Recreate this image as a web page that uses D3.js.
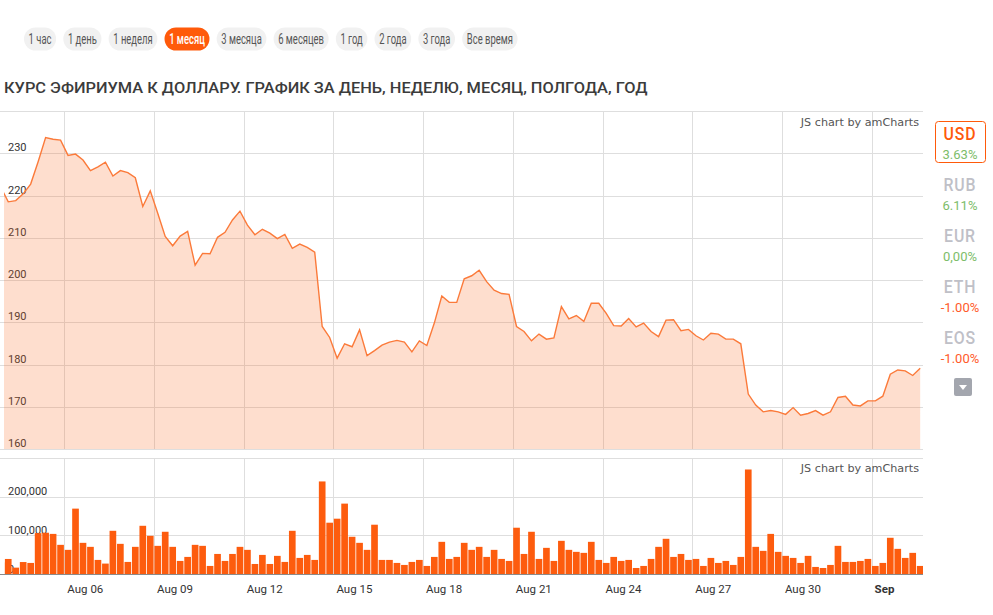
<!DOCTYPE html>
<html><head><meta charset="utf-8">
<script src="https://cdn.jsdelivr.net/npm/d3@7"></script>
<style>body{margin:0;background:#fff;} svg{display:block;font-family:Roboto,"Noto Sans",sans-serif;}</style>
</head><body><svg id="c" width="993" height="615"></svg>
<script>
// ---------------- data ----------------
const periods = ["1 час","1 день","1 неделя","1 месяц","3 месяца","6 месяцев","1 год","2 года","3 года","Все время"];
const activePeriod = "1 месяц";
const title = "КУРС ЭФИРИУМА К ДОЛЛАРУ. ГРАФИК ЗА ДЕНЬ, НЕДЕЛЮ, МЕСЯЦ, ПОЛГОДА, ГОД";
const firstCandle = new Date(2019, 7, 3, 18); // 6-hour candles
const stepHours = 6;
const prices = [
 222.0,
 218.5,218.8,220.4,222.7,228.0,233.7,233.3,233.1,229.5,229.8,
 228.4,225.9,226.8,227.9,224.6,225.9,225.4,224.2,217.4,221.1,
 215.8,210.3,208.1,210.4,211.5,203.5,206.3,206.2,210.1,211.3,
 214.2,216.3,213.0,210.7,212.0,211.1,209.8,210.8,207.5,208.5,
 207.7,206.6,189.0,186.4,181.5,184.9,184.2,188.2,182.1,183.3,
 184.6,185.3,185.7,185.3,183.0,185.6,184.5,189.8,196.2,194.7,
 194.7,200.3,201.0,202.3,199.6,197.6,196.8,196.6,189.0,187.8,
 185.6,187.2,186.0,186.3,193.7,190.8,191.6,190.2,194.5,194.5,
 192.1,189.2,189.1,190.9,188.9,189.8,187.8,186.6,190.5,190.6,
 188.0,188.3,186.8,185.8,187.4,187.2,186.0,186.0,184.9,173.0,
 170.4,168.8,169.1,168.8,168.2,169.8,168.0,168.4,169.1,168.0,
 168.8,172.2,172.5,170.4,170.2,171.4,171.4,172.5,177.7,178.7,
 178.5,177.4,179.1
];
const volumesK = [
 30,
 39,16.5,31,28.7,106,107,104,75.6,62.6,169.5,
 80.8,70.4,36.5,27,112,78.2,31.3,70.4,125,99,
 73,109.5,70.4,33.9,44.3,75.6,73,20.9,52,33.9,
 52,70.4,62.6,26,49.5,26,47,31.3,112,41.7,
 49.5,36.5,240,133,143.4,182.5,96.5,80.8,62.6,127.8,
 36.5,36.5,28.7,23.5,31.3,36.5,20.9,44.3,83.4,39.1,
 44.3,80.8,62.6,70.4,44.3,62.6,39.1,33.9,120,52,
 109.5,39.1,67.8,33.9,86,62.6,57.4,54.8,83.4,36.5,
 28.7,44.3,33.9,36.5,15.6,20.9,39.1,70.4,91.3,44.3,
 52,36.5,39.1,20.9,41.7,28.7,33.9,23.5,44.3,271,
 70.4,60,104,57.4,47,41.7,28.7,47,18.3,15.6,
 23.5,73,31.3,31.3,33.9,39.1,20.9,28.7,93.9,65.2,
 41.7,54.8,20.9
];
const priceTicks = [160,170,180,190,200,210,220,230,240];
const volumeTicks = [0,100000,200000,300000];
const dateTicks = ["2019-08-06","2019-08-09","2019-08-12","2019-08-15","2019-08-18","2019-08-21","2019-08-24","2019-08-27","2019-08-30","2019-09-02"];
const currencies = ["USD","RUB","EUR","ETH","EOS"];
const changes = ["3.63%","6.11%","0,00%","-1.00%","-1.00%"];
const credit = "JS chart by amCharts";

// ---------------- layout ----------------
const svg = d3.select("#c");
const L = 4, R = 923;
const P = {top:111, bottom:449};
const V = {top:458.3, bottom:574};
const ORANGE = "#ff5a0a";
const GRID = "#dedede";

const HOUR = 3600e3;
const data = prices.map((p,i)=>({
  t: new Date(firstCandle.getTime() + i*stepHours*HOUR),
  price: p, vol: volumesK[i]*1000
}));

const x = d3.scaleTime()
  .domain([new Date(2019,7,4), new Date(2019,8,3)])
  .range([4.5, 4.5 + 30*29.9]);
const yP = d3.scaleLinear().domain([160,240]).range([P.bottom, P.top]);
const yV = d3.scaleLinear().domain([0,300000]).range([V.bottom, V.top]);
const ticksT = dateTicks.map(s=>{const [a,b,c]=s.split("-").map(Number);return new Date(a,b-1,c);});

// ---- period buttons ----
const btnScale = 0.675;
const bg = svg.append("g");
let bx = 24;
periods.forEach(p=>{
  const g = bg.append("g");
  const active = p===activePeriod;
  const rect = g.append("rect").attr("y",27.5).attr("height",23).attr("rx",11.5)
    .attr("fill", active?ORANGE:"#f1f1f1");
  const t = g.append("text").text(p).attr("font-size",14).attr("font-weight",active?500:400)
    .attr("fill", active?"#fff":"#555");
  const w = t.node().getComputedTextLength()*btnScale;
  const pad = 4.6;
  rect.attr("x",bx).attr("width",w+2*pad);
  t.attr("transform",`translate(${bx+pad},44) scale(${btnScale},1)`);
  bx += w + 2*pad + 7.2;
});

// ---- title ----
const tt = svg.append("text").text(title).attr("font-size",15.5).attr("font-weight",500)
  .attr("fill","#3b3b3b");
const tw = tt.node().getComputedTextLength();
tt.attr("transform",`translate(4,92.5) scale(${644/tw},1)`);

// ---- clip paths ----
const defs = svg.append("defs");
defs.append("clipPath").attr("id","cp").append("rect").attr("x",L).attr("y",P.top).attr("width",R-L).attr("height",P.bottom-P.top);
defs.append("clipPath").attr("id","cv").append("rect").attr("x",L).attr("y",V.top).attr("width",R-L).attr("height",V.bottom-V.top);

// ---- price chart grid ----
const gp = svg.append("g");
gp.selectAll(".hg").data(priceTicks).join("line")
  .attr("x1",0).attr("x2",R).attr("y1",d=>Math.round(yP(d))+0.5).attr("y2",d=>Math.round(yP(d))+0.5)
  .attr("stroke",GRID);
gp.selectAll(".vg").data(ticksT).join("line")
  .attr("x1",d=>Math.round(x(d))+0.5).attr("x2",d=>Math.round(x(d))+0.5)
  .attr("y1",P.top).attr("y2",P.bottom).attr("stroke",GRID);

const mid = d=>new Date(d.t.getTime()+stepHours*HOUR/2);
const area = d3.area().x(d=>x(mid(d))).y0(P.bottom).y1(d=>yP(d.price));
const line = d3.line().x(d=>x(mid(d))).y(d=>yP(d.price));
const pc = svg.append("g").attr("clip-path","url(#cp)");
pc.append("path").datum(data).attr("d",area).attr("fill","#fb6a22").attr("fill-opacity",0.22);
pc.append("path").datum(data).attr("d",line).attr("fill","none").attr("stroke","#fb7a3a").attr("stroke-width",1.4);

gp.selectAll(".yl").data(priceTicks.filter(d=>d<240)).join("text")
  .attr("x",8).attr("y",d=>yP(d)-2).text(d=>d)
  .attr("font-size",11).attr("fill","#333");

svg.append("text").attr("x",919).attr("y",126).attr("text-anchor","end")
  .attr("font-family","Verdana, 'DejaVu Sans', sans-serif").attr("font-size",11.2)
  .attr("fill","#555").text(credit);

// ---- volume chart ----
const gv = svg.append("g");
gv.selectAll(".hg").data(volumeTicks).join("line")
  .attr("x1",0).attr("x2",R).attr("y1",d=>Math.round(yV(d))+0.5).attr("y2",d=>Math.round(yV(d))+0.5)
  .attr("stroke",d=>d===0?"#8a8a8a":GRID);
gv.selectAll(".vg").data(ticksT).join("line")
  .attr("x1",d=>Math.round(x(d))+0.5).attr("x2",d=>Math.round(x(d))+0.5)
  .attr("y1",V.top).attr("y2",V.bottom).attr("stroke",GRID);

const vc = svg.append("g").attr("clip-path","url(#cv)");
vc.selectAll("rect").data(data).join("rect")
  .attr("x",d=>x(d.t)+0.4)
  .attr("width",d=>x(new Date(d.t.getTime()+stepHours*HOUR))-x(d.t)-0.8)
  .attr("y",d=>yV(d.vol)).attr("height",d=>yV(0)-yV(d.vol))
  .attr("fill","#fd5c0e");

const fmt = d3.format(",");
gv.selectAll(".yl").data(volumeTicks.filter(d=>d<300000)).join("text")
  .attr("x",8).attr("y",d=>yV(d)-1.5).text(d=>fmt(d))
  .attr("font-size",11).attr("fill","#333");

svg.append("text").attr("x",919).attr("y",472).attr("text-anchor","end")
  .attr("font-family","Verdana, 'DejaVu Sans', sans-serif").attr("font-size",11.2)
  .attr("fill","#555").text(credit);

// ---- x axis labels ----
const fd = d3.timeFormat("%b %d");
svg.append("g").selectAll("text").data(ticksT).join("text")
  .attr("x",d=>x(d)+3).attr("y",593)
  .attr("font-size",11.5)
  .attr("font-weight",d=>d.getDate()<=3?700:400)
  .attr("fill","#333")
  .text(d=>d.getDate()<=3?d3.timeFormat("%b")(d):fd(d));

// ---- currency panel ----
const cp = svg.append("g");
cp.append("rect").attr("x",935.5).attr("y",121.5).attr("width",50).attr("height",41).attr("rx",3)
  .attr("fill","#fff").attr("stroke",ORANGE);
currencies.forEach((c,i)=>{
  const y0 = 140 + i*51;
  cp.append("text").attr("text-anchor","middle")
    .attr("transform",`translate(960,${y0}) scale(0.88,1)`)
    .attr("font-size",18).attr("font-weight",500).attr("letter-spacing",1)
    .attr("fill", i===0?ORANGE:"#bfc0c7").text(c);
  const neg = changes[i].startsWith("-");
  cp.append("text").attr("x",960).attr("y",y0+18.5).attr("text-anchor","middle")
    .attr("font-size",13).attr("fill", neg?"#ff5a2a":"#7dbd6a").text(changes[i]);
});
cp.append("rect").attr("x",954).attr("y",378).attr("width",18).attr("height",18).attr("rx",2).attr("fill","#a3a6ae");
cp.append("path").attr("d","M959,385 L967,385 L963,390 Z").attr("fill","#fff");
</script></body></html>
